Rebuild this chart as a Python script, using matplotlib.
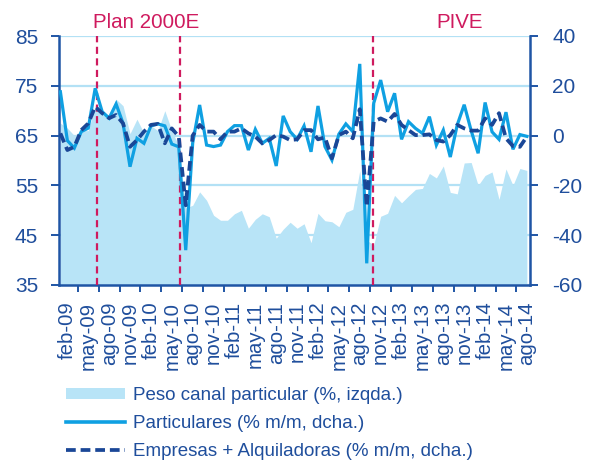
import matplotlib
matplotlib.use("Agg")
import matplotlib.pyplot as plt
from matplotlib.patches import Patch
from matplotlib.lines import Line2D
import numpy as np

plt.rcParams['font.family'] = ['Liberation Sans', 'DejaVu Sans']
plt.rcParams['axes.unicode_minus'] = False

# Months jan-09 .. ago-14 (68 points)
months_es = ['ene', 'feb', 'mar', 'abr', 'may', 'jun', 'jul', 'ago', 'sep', 'oct', 'nov', 'dic']
dates = [f"{months_es[m]}-{y:02d}" for y in range(9, 15) for m in range(12)][:68]

peso = [67.5, 66.5, 65.0, 66.0, 66.0, 71.0, 70.0, 69.0, 72.3, 71.0,
        65.4, 68.3, 65.5, 67.0, 66.0, 70.0, 66.0, 63.0, 50.5, 51.0,
        53.7, 52.0, 49.0, 48.0, 48.0, 49.3, 50.0, 46.4, 48.2, 49.3,
        48.7, 44.4, 46.2, 47.6, 46.4, 47.3, 43.5, 49.4, 47.9, 47.7,
        46.7, 49.6, 50.2, 58.0, 44.0, 43.0, 48.8, 49.4, 53.0, 51.5,
        52.9, 54.2, 54.4, 57.4, 56.5, 58.9, 53.6, 53.3, 59.5, 59.6,
        55.0, 57.0, 57.7, 52.2, 58.3, 55.0, 58.4, 58.0]

particulares = [17.6, -2.0, -5.0, 1.6, 3.0, 19.0, 9.6, 7.0, 12.7, 4.9,
                -12.5, -1.1, -3.1, 3.9, 4.7, 3.9, -3.4, -4.5, -46.0, -3.0,
                12.3, -3.8, -4.4, -3.8, 1.6, 4.0, 4.0, -5.8, 2.5, -3.1,
                -1.1, -12.2, 7.9, 1.6, -1.5, 3.9, -6.5, 11.9, -4.4, -9.8,
                0.6, 4.7, 1.6, 28.8, -51.3, 13.0, 22.3, 9.6, 17.0, -1.5,
                5.6, 2.9, 0.9, 7.6, -3.8, 2.2, -8.6, 4.3, 12.4, 2.0,
                -7.1, 13.3, 1.5, -1.5, 9.4, -5.5, 0.4, -0.3]

empresas = [0.9, -5.8, -4.5, 2.2, 4.9, 11.6, 9.0, 7.0, 8.3, 4.9,
            -4.5, -1.8, 1.6, 4.3, 4.7, -3.1, 2.9, -0.4, -28.0, 0.0,
            4.3, 1.6, 1.6, -1.5, 1.6, 1.6, 2.9, 0.9, -0.4, -3.1,
            -1.8, 0.2, -0.4, -1.8, -1.5, 2.2, 2.2, -1.5, -0.7, -9.1,
            0.2, 1.6, -1.1, 10.6, -28.5, 5.6, 6.9, 5.6, 8.7, 4.3,
            2.2, 0.2, 0.2, 0.5, -1.8, -2.4, 0.2, 4.3, 2.9, 2.0,
            2.0, 6.9, 4.3, 9.0, -1.1, -4.2, -4.5, -0.4]

label_idx = list(range(1, 68, 3))
tick_labels = [dates[i] for i in label_idx]
event_x = [5.25, 17.2, 44.85]

AREA = '#B8E4F7'
BRIGHT = '#0FA0E2'
NAVY = '#1A4797'
TEXT = '#1F4E9C'
AXIS = '#1F55A5'
GRID = '#B3E1F5'
RED = '#CF1A5E'

x = np.arange(len(peso))

fig = plt.figure(figsize=(5.91, 4.63), dpi=100)
ax = fig.add_axes([59/591, 1-285/463, 471/591, 249/463])
ax2 = ax.twinx()

ax.fill_between(x, 35, peso, color=AREA, lw=0, zorder=2)
ax.set_ylim(35, 85)
ax.set_yticks(range(35, 86, 10))
ax.set_xlim(-0.2, 67.45)
ax.set_axisbelow(True)
ax.yaxis.grid(True, color=GRID, lw=1.6, zorder=0)

for xv in event_x:
    ax.axvline(xv, color=RED, lw=1.6, dashes=(3.2, 2.0), zorder=3)

ax2.plot(x, particulares, color=BRIGHT, lw=2.3, zorder=3, solid_joinstyle='miter')
ax2.plot(x, empresas, color=NAVY, lw=2.7, dashes=(2.6, 1.3), zorder=4)
ax2.set_ylim(-60, 40)
ax2.set_yticks(range(-60, 41, 20))

# x ticks
ax.set_xticks(np.arange(2.5, 66, 3))
ax.set_xticklabels([])
ax.set_xticks(label_idx, minor=True)
ax.set_xticklabels(tick_labels, minor=True, rotation=90, fontsize=14.7, color=TEXT,
                   ha='center', va='top')
ax.tick_params(axis='x', which='major', length=5, width=1.4, color=AXIS, direction='out')
ax.tick_params(axis='x', which='minor', length=0, pad=12)
ax.tick_params(axis='y', length=6, width=1.4, color=AXIS, labelsize=15, labelcolor=TEXT, pad=9)
ax2.tick_params(axis='y', length=6, width=1.4, color=AXIS, labelsize=15, labelcolor=TEXT, pad=10)

for s in ['top', 'right']:
    ax.spines[s].set_visible(False)
for s in ['top', 'left', 'bottom']:
    ax2.spines[s].set_visible(False)
for s in ['left', 'bottom']:
    ax.spines[s].set_color(AXIS)
    ax.spines[s].set_linewidth(1.8)
ax2.spines['right'].set_color(AXIS)
ax2.spines['right'].set_linewidth(1.8)

trans = matplotlib.transforms.blended_transform_factory(ax.transData, fig.transFigure)
fig.text(4.73, 1-22/463, 'Plan 2000E', transform=trans, color=RED, fontsize=14.8,
         ha='left', va='center')
fig.text(57.35, 1-22/463, 'PIVE', transform=trans, color=RED, fontsize=14.8,
         ha='center', va='center')

handles = [Patch(facecolor=AREA, edgecolor='none'),
           Line2D([], [], color=BRIGHT, lw=2.6),
           Line2D([], [], color=NAVY, lw=2.7, dashes=(2.6, 1.3))]
labels = ['Peso canal particular (%, izqda.)',
          'Particulares (% m/m, dcha.)',
          'Empresas + Alquiladoras (% m/m, dcha.)']
fig.legend(handles, labels, loc='upper left', bbox_to_anchor=(66/591, 1-387/463),
           frameon=False, fontsize=13.5, handlelength=3.15, handletextpad=0.43,
           labelspacing=0.58, borderpad=0, borderaxespad=0, labelcolor=TEXT,
           handleheight=0.55)

fig.savefig('out.png', dpi=100)
